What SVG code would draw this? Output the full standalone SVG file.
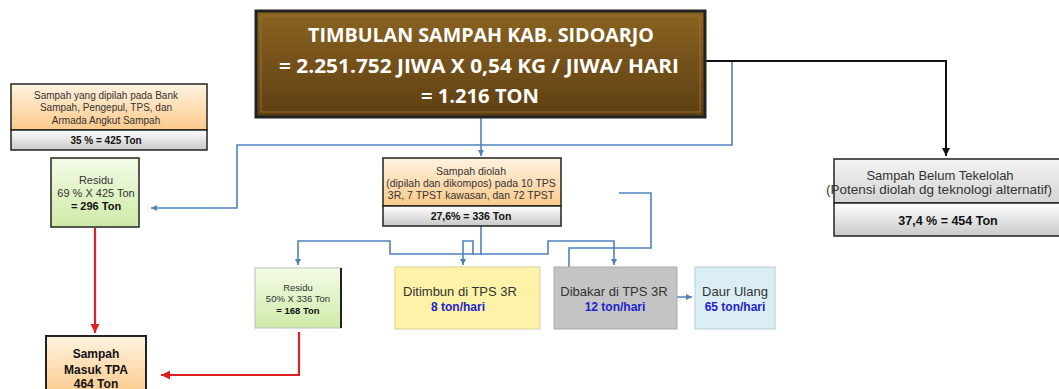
<svg xmlns="http://www.w3.org/2000/svg" width="1059" height="389" viewBox="0 0 1059 389">
<defs>
<linearGradient id="brown" x1="0" y1="0" x2="0" y2="1">
<stop offset="0" stop-color="#8a6420"/><stop offset="0.5" stop-color="#74501a"/><stop offset="1" stop-color="#5e3f12"/>
</linearGradient>
<linearGradient id="orange" x1="0" y1="0" x2="0" y2="1">
<stop offset="0" stop-color="#fff3e0"/><stop offset="1" stop-color="#fcc98a"/>
</linearGradient>
<linearGradient id="gray" x1="0" y1="0" x2="0" y2="1">
<stop offset="0" stop-color="#ffffff"/><stop offset="1" stop-color="#c8c8c8"/>
</linearGradient>
<linearGradient id="green" x1="0" y1="0" x2="0" y2="1">
<stop offset="0" stop-color="#f3fbe6"/><stop offset="1" stop-color="#cfeaa8"/>
</linearGradient>
<linearGradient id="grayTop" x1="0" y1="0" x2="0" y2="1">
<stop offset="0" stop-color="#f4f4f4"/><stop offset="1" stop-color="#d4d4d4"/>
</linearGradient>
<marker id="ab" markerWidth="8" markerHeight="8" refX="6" refY="4" orient="auto" markerUnits="userSpaceOnUse">
<path d="M0,1 L6,4 L0,7 Z" fill="#4f81bd"/>
</marker>
<marker id="abk" markerWidth="10" markerHeight="10" refX="8" refY="5" orient="auto" markerUnits="userSpaceOnUse">
<path d="M0,1 L8,5 L0,9 Z" fill="#111"/>
</marker>
<marker id="ar" markerWidth="12" markerHeight="12" refX="9" refY="6" orient="auto" markerUnits="userSpaceOnUse">
<path d="M0,1.5 L9,6 L0,10.5 Z" fill="#e02020"/>
</marker>
</defs>
<style>
.t{font-family:"Liberation Sans",Arial,sans-serif;fill:#333;text-anchor:middle}
.s{font-size:10px}
.b{font-weight:bold;fill:#111}
.m{font-family:"Open Sans","Liberation Sans",sans-serif;font-weight:bold;font-size:20px;fill:#fff;text-anchor:middle}
.bl{stroke:#4f81bd;stroke-width:1.6;fill:none}
.bk{stroke:#111;stroke-width:2;fill:none}
.rd{stroke:#e02020;stroke-width:2.2;fill:none}
.blue{fill:#2222cc;font-weight:bold}
</style>
<rect width="1059" height="389" fill="#fff"/>
<g id="connectors">
<path class="bl" d="M481,118 V156" marker-end="url(#ab)"/>
<path class="bl" d="M732,62 V145 H237 V208 H151" marker-end="url(#ab)"/>
<path class="bk" d="M706,61 H946 V156" marker-end="url(#abk)"/>
<path class="bl" d="M481,226 V254 H390 V241 H298 V265" marker-end="url(#ab)"/>
<path class="bl" d="M481,254 H548 V241 H614 V265" marker-end="url(#ab)"/>
<path class="bl" d="M473,254 V241 H463 V265" marker-end="url(#ab)"/>
<path class="bl" d="M619,193 H651 V248 H569 V297 H692" marker-end="url(#ab)"/>
<path class="rd" d="M95,228 V333" marker-end="url(#ar)"/>
<path class="rd" d="M299,332 V375 H161" marker-end="url(#ar)"/>
</g>
<g id="main">
<rect x="256" y="11" width="449" height="106" fill="url(#brown)" stroke="#222" stroke-width="3"/>
<rect x="261" y="16" width="439" height="96" fill="none" stroke="#9c7430" stroke-width="1.5" opacity="0.6"/>
<text class="m" x="481" y="42" textLength="346" lengthAdjust="spacingAndGlyphs">TIMBULAN SAMPAH KAB. SIDOARJO</text>
<text class="m" x="479" y="73" textLength="400" lengthAdjust="spacingAndGlyphs">= 2.251.752 JIWA X 0,54 KG / JIWA/ HARI</text>
<text class="m" x="480" y="103" textLength="118" lengthAdjust="spacingAndGlyphs">= 1.216 TON</text>
</g>
<g id="dipilah">
<rect x="11" y="84" width="196" height="46" fill="url(#orange)" stroke="#222" stroke-width="1.5"/>
<rect x="11" y="130" width="196" height="20" fill="url(#gray)" stroke="#222" stroke-width="1.5"/>
<text class="t s" x="106" y="99">Sampah yang dipilah pada Bank</text>
<text class="t s" x="106" y="111">Sampah, Pengepul, TPS, dan</text>
<text class="t s" x="106" y="124">Armada Angkut Sampah</text>
<text class="t s b" x="106" y="144">35 % = 425 Ton</text>
</g>
<g id="residu1">
<rect x="51" y="158" width="88" height="69" fill="url(#green)" stroke="#222" stroke-width="1.5"/>
<text class="t" font-size="11" x="96" y="184">Residu</text>
<text class="t" font-size="11" x="96" y="197">69 % X 425 Ton</text>
<text class="t b" font-size="11" x="96" y="210">= 296  Ton</text>
</g>
<g id="diolah">
<rect x="383" y="158" width="178" height="48" fill="url(#orange)" stroke="#222" stroke-width="1.5"/>
<rect x="383" y="206" width="178" height="20" fill="url(#gray)" stroke="#222" stroke-width="1.5"/>
<text class="t" font-size="10.5" x="471" y="175">Sampah diolah</text>
<text class="t" font-size="10.5" x="471" y="187">(dipilah dan dikompos) pada 10 TPS</text>
<text class="t" font-size="10.5" x="471" y="199">3R, 7 TPST kawasan, dan 72 TPST</text>
<text class="t b" font-size="10.5" x="471" y="220">27,6% = 336 Ton</text>
</g>
<g id="belum">
<rect x="834" y="159" width="230" height="44" fill="url(#grayTop)" stroke="#222" stroke-width="1.5"/>
<rect x="834" y="203" width="230" height="33" fill="url(#gray)" stroke="#222" stroke-width="1.5"/>
<text class="t" font-size="13" x="940" y="180">Sampah Belum Tekelolah</text>
<text class="t" font-size="13.5" x="939" y="194">(Potensi diolah dg teknologi alternatif)</text>
<text class="t b" font-size="12.5" x="948" y="225">37,4 % = 454 Ton</text>
</g>
<g id="residu2">
<rect x="255" y="268" width="86" height="60" fill="url(#green)" stroke="#bbb" stroke-width="1"/>
<line x1="341" y1="268" x2="341" y2="328" stroke="#222" stroke-width="2"/>
<text class="t" font-size="9.5" x="298" y="291">Residu</text>
<text class="t" font-size="9.5" x="298" y="302">50%  X 336 Ton</text>
<text class="t b" font-size="9.5" x="298" y="314">= 168 Ton</text>
</g>
<g id="ditimbun">
<rect x="395" y="267" width="145" height="62" fill="#fdf2a8" stroke="#d8d0a0" stroke-width="1"/>
<text class="t" font-size="13" x="460" y="296" fill="#222">Ditimbun di TPS 3R</text>
<text class="t blue" font-size="12" x="458" y="311">8 ton/hari</text>
</g>
<g id="dibakar">
<rect x="554" y="267" width="123" height="62" fill="#c4c4c4" stroke="#aaa" stroke-width="1"/>
<text class="t" font-size="13" x="614" y="296" fill="#222">Dibakar di TPS 3R</text>
<text class="t blue" font-size="12" x="615" y="311">12 ton/hari</text>
</g>
<g id="daur">
<rect x="695" y="267" width="80" height="62" fill="#dbeef4" stroke="#b8ccd4" stroke-width="1"/>
<text class="t" font-size="13" x="735" y="296" fill="#222">Daur Ulang</text>
<text class="t blue" font-size="12" x="735" y="311">65 ton/hari</text>
</g>
<g id="tpa">
<rect x="46" y="336" width="100" height="60" fill="url(#orange)" stroke="#222" stroke-width="2"/>
<text class="t b" font-size="12" x="96" y="358">Sampah</text>
<text class="t b" font-size="12" x="96" y="374">Masuk TPA</text>
<text class="t b" font-size="12" x="96" y="388">464 Ton</text>
</g>
</svg>
